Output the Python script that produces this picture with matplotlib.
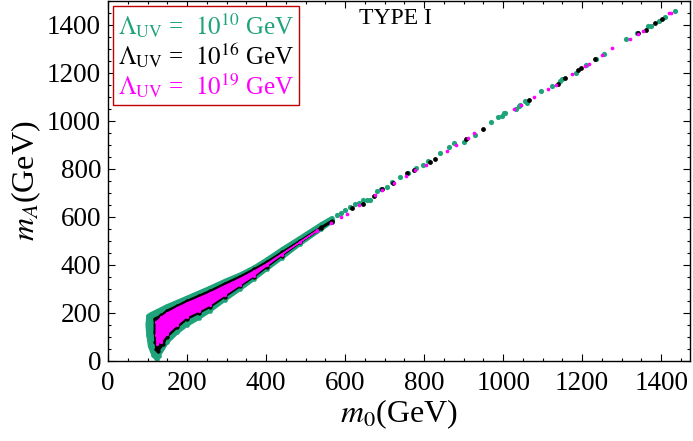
import numpy as np
import matplotlib.pyplot as plt
from matplotlib.lines import Line2D
from matplotlib.ticker import MultipleLocator

plt.rcParams['font.family'] = ['Liberation Serif', 'DejaVu Serif']
plt.rcParams['mathtext.fontset'] = 'stix'

GREEN = '#1fa37a'
BLACK = '#000000'
MAGENTA = '#ff00ff'

# dense region edges (m0, mA)
green_up_m0 = [102, 110, 125, 149, 175, 199, 230, 258, 295, 334, 370, 402, 440, 486, 540, 566]
green_up_mA = [188, 196, 208, 228, 246, 263, 285, 305, 333, 360, 390, 423, 465, 513, 570, 595]
green_lo_m0 = [100, 102, 106, 115, 123, 128, 149, 175, 199, 230, 258, 295, 334, 370, 402, 440, 486, 540, 566]
green_lo_mA = [150, 110, 62, 24, 8, 22, 78, 120, 150, 180, 210, 255, 300, 343, 384, 430, 488, 550, 580]

black_up_m0 = [118, 135, 149, 175, 199, 230, 258, 295, 334, 370, 402, 440, 486, 540, 566]
black_up_mA = [176, 191, 210, 230, 250, 272, 292, 322, 352, 383, 413, 453, 501, 558, 584]
black_lo_m0 = [118, 120, 122, 127, 140, 149, 175, 199, 230, 258, 295, 334, 370, 402, 440, 486, 540, 566]
black_lo_mA = [120, 80, 52, 42, 70, 100, 140, 174, 200, 225, 267, 311, 352, 392, 439, 494, 553, 580]

mag_up_m0 = [122, 135, 149, 175, 199, 230, 258, 295, 334, 370, 402, 440, 486, 530]
mag_up_mA = [162, 182, 199, 222, 241, 263, 283, 313, 343, 375, 405, 446, 495, 545]
mag_lo_m0 = [122, 124, 135, 149, 175, 199, 230, 258, 295, 334, 370, 402, 440, 486, 530]
mag_lo_mA = [110, 72, 80, 112, 151, 184, 208, 233, 274, 317, 356, 398, 443, 496, 543]

# sparse points along the line
green_m0 = [566, 579, 590, 600, 612, 625, 635, 646, 655, 663, 680, 690, 706, 720, 740,
            760, 780, 797, 811, 841, 862, 876, 900, 930, 970, 986, 997, 1003, 1005,
            1033, 1039, 1043, 1056, 1060, 1096, 1123, 1143, 1149, 1185, 1210, 1236,
            1256, 1312, 1339, 1366, 1374, 1395, 1410, 1435]
green_mA = [588, 608, 618, 630, 640, 654, 660, 671, 672, 671, 710, 715, 726, 745, 765,
            785, 803, 817, 835, 865, 893, 907, 914, 940, 997, 1015, 1021, 1032, 1035,
            1049, 1062, 1067, 1085, 1076, 1126, 1146, 1167, 1175, 1201, 1232, 1260,
            1278, 1341, 1368, 1396, 1397, 1417, 1433, 1460]

black_m0 = [617, 645, 672, 693, 722, 758, 775, 816, 828, 906, 950, 1066, 1139, 1156,
            1189, 1197, 1233, 1342, 1361, 1384, 1401]
black_mA = [636, 654, 688, 715, 743, 782, 796, 830, 842, 925, 968, 1089, 1156, 1180,
            1214, 1221, 1258, 1365, 1380, 1408, 1426]

mag_m0 = [564, 590, 604, 635, 675, 694, 725, 755, 778, 805, 859, 880, 910, 927, 1028,
          1045, 1078, 1113, 1134, 1174, 1208, 1217, 1251, 1276, 1320, 1342, 1354, 1421, 1426]
mag_mA = [574, 600, 613, 650, 690, 712, 740, 771, 796, 817, 876, 898, 930, 949, 1051,
          1068, 1100, 1135, 1151, 1196, 1230, 1239, 1275, 1305, 1341, 1364, 1375, 1450, 1452]

labels = [r'$\Lambda_{\rm UV}$ =  $10^{10}$ GeV',
          r'$\Lambda_{\rm UV}$ =  $10^{16}$ GeV',
          r'$\Lambda_{\rm UV}$ =  $10^{19}$ GeV']

fig = plt.figure(figsize=(6.93, 4.41), dpi=100)
ax = fig.add_axes([108 / 693, 80 / 441, 582 / 693, 360 / 441])

series = [
    (green_up_m0, green_up_mA, green_lo_m0, green_lo_mA, green_m0, green_mA, GREEN, 14, 3.0),
    (black_up_m0, black_up_mA, black_lo_m0, black_lo_mA, black_m0, black_mA, BLACK, 12, 1.5),
    (mag_up_m0, mag_up_mA, mag_lo_m0, mag_lo_mA, mag_m0, mag_mA, MAGENTA, 7, 1.0),
]
for up_x, up_y, lo_x, lo_y, px, py, c, s, lw in series:
    poly_x = list(up_x) + list(lo_x[::-1])
    poly_y = list(up_y) + list(lo_y[::-1])
    ax.fill(poly_x, poly_y, color=c, lw=lw, joinstyle='round')
    ax.scatter(poly_x, poly_y, s=s * 0.8, color=c, lw=0)
    ax.scatter(px, py, s=s, color=c, lw=0)

ax.set_xlim(0, 1473)
ax.set_ylim(0, 1500)
ax.xaxis.set_major_locator(MultipleLocator(200))
ax.xaxis.set_minor_locator(MultipleLocator(50))
ax.yaxis.set_major_locator(MultipleLocator(200))
ax.yaxis.set_minor_locator(MultipleLocator(50))
ax.tick_params(which='both', direction='in', top=True, right=True, labelsize=19.5, width=0.8)
ax.tick_params(which='major', length=5)
ax.tick_params(which='minor', length=2.5)
ax.tick_params(axis='x', pad=7)
ax.tick_params(axis='y', pad=5)
for sp in ax.spines.values():
    sp.set_linewidth(1.0)

ax.set_xlabel(r'$m_0$(GeV)', fontsize=23, labelpad=1)
ax.set_ylabel(r'$m_A$(GeV)', fontsize=23, labelpad=3)

ax.text(727, 1425, 'TYPE I', fontsize=17, ha='center', va='center')

handles = [Line2D([], [], linestyle='none') for _ in labels]
leg = ax.legend(handles, labels, loc='upper left', bbox_to_anchor=(0.008, 0.985),
                borderaxespad=0, handlelength=0, handletextpad=0, fontsize=18,
                labelspacing=0.05, borderpad=0.2, fancybox=False, framealpha=1)
leg.get_frame().set_edgecolor('#c00000')
leg.get_frame().set_linewidth(1.0)
for t, c in zip(leg.get_texts(), [GREEN, BLACK, MAGENTA]):
    t.set_color(c)

fig.savefig('out.png', dpi=100)
